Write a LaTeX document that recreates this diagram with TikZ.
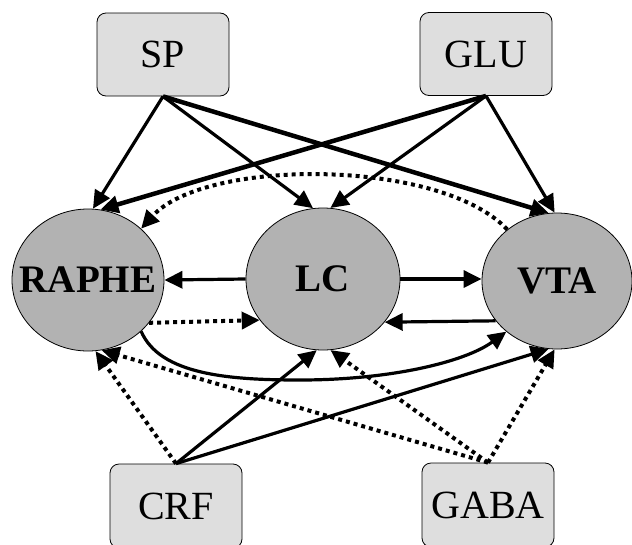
\documentclass[tikz,border=0pt]{standalone}
\usepackage{fontspec}
\setmainfont{Liberation Serif}
\usetikzlibrary{arrows.meta,shapes.geometric}
\begin{document}
\begin{tikzpicture}[x=1pt,y=-1pt,
  box/.style={draw=black,line width=0.8pt,fill=black!13,rounded corners=9pt,minimum width=132pt,minimum height=83pt,inner sep=0pt,font=\fontsize{40}{44}\selectfont},
  nucleus/.style={ellipse,draw=black,line width=0.8pt,fill=black!30,inner sep=0pt,font=\fontsize{39}{44}\selectfont\bfseries},
  arr/.style={line width=3.2pt,-{Triangle[length=18pt,width=17pt]}},
  thickarr/.style={arr,line width=4.5pt},
  dotarr/.style={arr,line width=4pt,dash pattern=on 4pt off 4pt}]
\useasboundingbox (0,0) rectangle (632,544);
\node[box] (sp) at (163,54.5) {SP};
\node[box] (glu) at (486,54) {GLU};
\node[box,minimum height=84pt] (crf) at (176,506) {CRF};
\node[box,minimum height=84pt] (gaba) at (488,505) {GABA};
\node[nucleus,minimum width=152pt,minimum height=142pt] (raphe) at (88,280) {\makebox[0pt]{RAPHE}};
\node[nucleus,minimum width=154pt,minimum height=142pt] (lc) at (323,279) {\makebox[0pt]{LC}};
\node[nucleus,minimum width=150pt,minimum height=136pt] (vta) at (557,281) {\makebox[0pt]{VTA}};
\draw[arr] (sp.south) -- (raphe.86);
\draw[arr] (sp.south) -- (lc.98);
\draw[thickarr] (sp.south) -- (vta.97);
\draw[thickarr] (glu.south) -- (raphe.80);
\draw[arr] (glu.south) -- (lc.84);
\draw[arr] (glu.south) -- (vta.92);
\draw[arr] (lc.west) -- (raphe.east);
\draw[arr] (lc.east) -- (lc.east -| vta.west);
\draw[arr] (vta.213) -- (lc.325);
\draw[dotarr] (raphe.325) -- (lc.213);
\draw[arr] (raphe.316) .. controls (160,375) and (230,380) .. (300,380) .. controls (390,380) and (465,362) .. (vta.225);
\draw[dotarr] (vta.134) .. controls (440,158) and (205,158) .. (raphe.44);
\draw[dotarr] (crf.north) -- (raphe.276);
\draw[dotarr] (gaba.north) -- (raphe.281);
\draw[arr] (crf.north) -- (lc.265);
\draw[dotarr] (gaba.north) -- (lc.276);
\draw[arr] (crf.north) -- (vta.263);
\draw[dotarr] (gaba.north) -- (vta.268);
\end{tikzpicture}
\end{document}
